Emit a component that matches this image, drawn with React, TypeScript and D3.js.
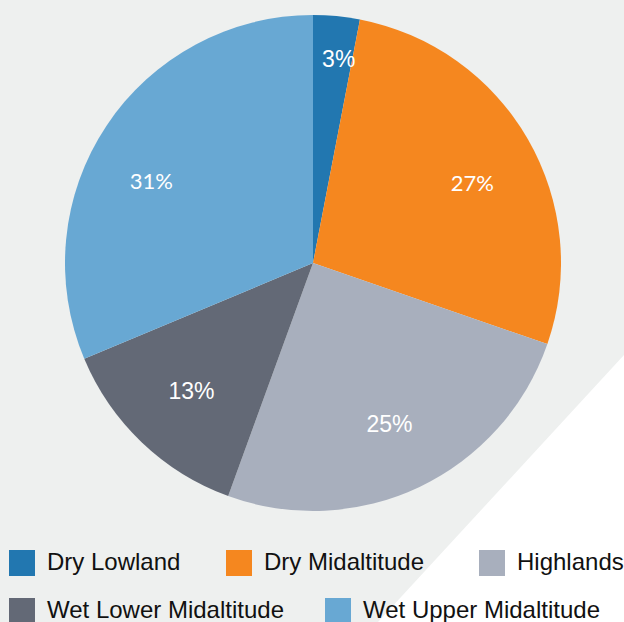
import React, { useLayoutEffect } from "react";
import * as d3 from "d3";

const categories = ["Dry Lowland", "Dry Midaltitude", "Highlands", "Wet Lower Midaltitude", "Wet Upper Midaltitude"];
const shares = [3, 27, 25, 13, 31];
const labels = ["3%", "27%", "25%", "13%", "31%"];

const colors = ["#2277b0", "#f5871f", "#a8afbd", "#636976", "#68a8d3"];
const labelFonts = ["Liberation Sans, Arial, sans-serif", "Lato, sans-serif", "Liberation Sans, Arial, sans-serif", "Liberation Sans, Arial, sans-serif", "Lato, sans-serif"];
const labelSizes = [23, 22, 23, 23, 22];
const labelRadius = [206, 178, 178, 176, 181];
const labelAngleShift = [0.03, 0.06, 0, 0, -0.12];

const W = 624;
const H = 622;
const cx = 313;
const cy = 263;
const R = 248;

const legendRows = [
  [{ i: 0, x: 9 }, { i: 1, x: 226 }, { i: 2, x: 479 }],
  [{ i: 3, x: 9 }, { i: 4, x: 325 }],
];
const legendRowY = [550, 598];

export default function App() {
  useLayoutEffect(() => {
    document.body.style.margin = "0";
  }, []);

  const pie = d3.pie<number>().value((d) => d).sort(null);
  const arcs = pie(shares);
  const arcGen = d3.arc<d3.PieArcDatum<number>>().innerRadius(0).outerRadius(R);

  return (
    <svg width={W} height={H} style={{ display: "block" }}>
      <rect x={0} y={0} width={W} height={H} fill="#eef0ef" />
      <polygon points={`${W},355 ${W},${H} 378,${H}`} fill="#ffffff" />
      <g transform={`translate(${cx},${cy})`}>
        {arcs.map((a, i) => (
          <path key={i} d={arcGen(a) || ""} fill={colors[i]} />
        ))}
        {arcs.map((a, i) => {
          const mid = (a.startAngle + a.endAngle) / 2 + labelAngleShift[i];
          const r = labelRadius[i];
          const x = Math.sin(mid) * r;
          const y = -Math.cos(mid) * r;
          return (
            <text
              key={"l" + i}
              x={x}
              y={y}
              dy="0.36em"
              textAnchor="middle"
              fill="#ffffff"
              fontFamily={labelFonts[i]}
              fontSize={labelSizes[i]}
            >
              {labels[i]}
            </text>
          );
        })}
      </g>
      {legendRows.map((row, ri) =>
        row.map((item) => (
          <g key={item.i} transform={`translate(${item.x},${legendRowY[ri]})`}>
            <rect x={0} y={0} width={26} height={26} fill={colors[item.i]} />
            <text x={38} y={20} fontFamily="Liberation Sans, Arial, sans-serif" fontSize={24} fill="#111111">
              {categories[item.i]}
            </text>
          </g>
        ))
      )}
    </svg>
  );
}
